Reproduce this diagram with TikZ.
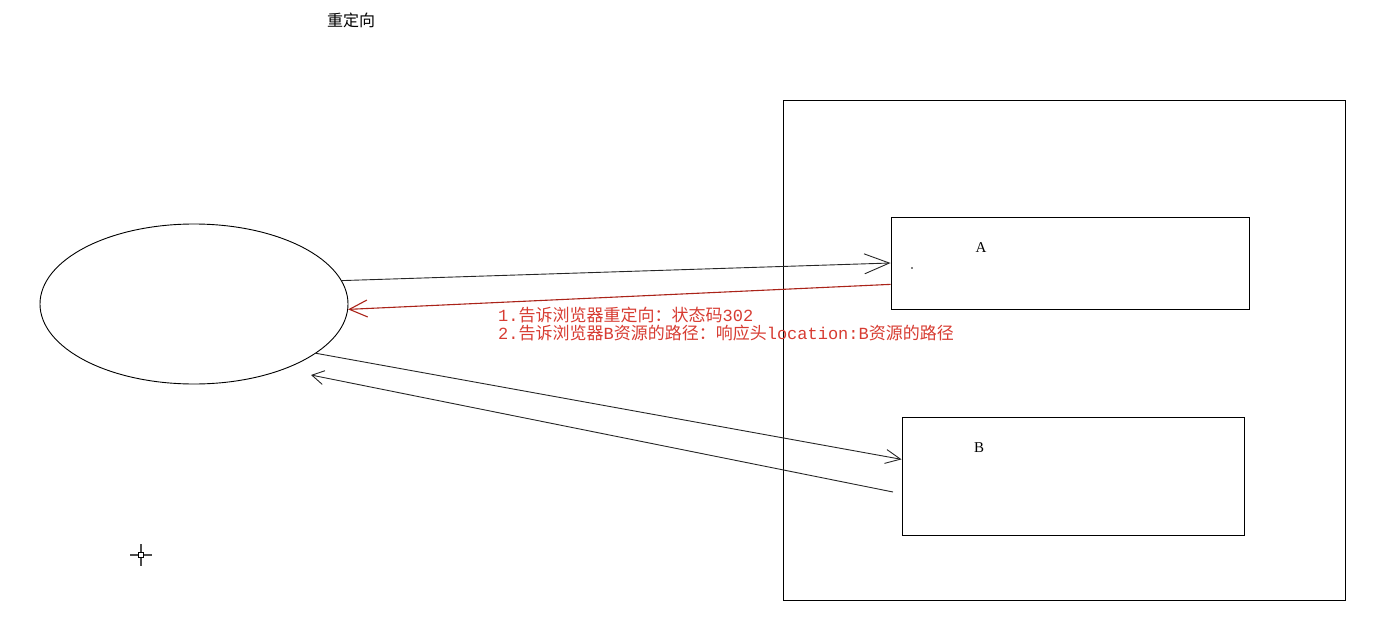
\documentclass[tikz,border=0pt]{standalone}
\usepackage{fontspec}
\setmainfont{Liberation Serif}
\newfontfamily\cjk{Noto Sans CJK SC}
\newfontfamily\monoascii{Liberation Mono}
\usetikzlibrary{shapes.geometric,arrows.meta,calc}
\definecolor{redline}{RGB}{170,35,25}
\definecolor{redtext}{RGB}{215,60,50}
\newcommand{\asc}[1]{{\monoascii #1}}
\tikzset{
  thinline/.style={line width=0.9pt, draw=black!85},
  bigbarb/.style={-{Straight Barb[length=25pt,width=20pt,line width=0.9pt]}},
  smallbarb/.style={-{Straight Barb[length=15pt,width=14pt,line width=0.9pt]}},
  boxstyle/.style={draw, line width=0.9pt, rectangle, inner sep=0pt},
  lbl/.style={font=\fontsize{15}{15}\selectfont, inner sep=0pt},
  redlbl/.style={font=\cjk\fontsize{17}{17}\selectfont, text=redtext, inner sep=0pt, anchor=base west},
}
\begin{document}
\begin{tikzpicture}[x=1pt,y=-1pt]
\useasboundingbox (0,0) rectangle (1388,634);
% title
\node[font=\cjk\fontsize{16}{16}\selectfont, inner sep=0pt] (title) at (351,20) {重定向};
% server
\node[boxstyle, minimum width=562pt, minimum height=500pt] (server) at (1064,350) {};
\node[boxstyle, minimum width=358pt, minimum height=92pt] (A) at (1070,263) {};
\node[boxstyle, minimum width=342pt, minimum height=118pt] (B) at (1073,476) {};
\node[lbl] (Alabel) at (981,248) {A};
\node[lbl] (Blabel) at (979,448) {B};
% browser
\node[draw, ellipse, line width=0.9pt, minimum width=308pt, minimum height=160pt, inner sep=0pt] (browser) at (194,304) {};
% coordinates
\coordinate (redstart) at ($(A.west)!0.46!(A.south west)$);
\coordinate (bin) at ($(B.north west)!0.36!(B.south west)$);
\coordinate (bout) at (893,492);
\coordinate (bback) at (311,375);
% connectors
\draw[thinline, bigbarb] (browser.9.8) -- (A.west);
\draw[line width=1.1pt, draw=redline, -{Straight Barb[length=18pt,width=17pt,line width=1.1pt]}] (redstart) -- (browser.-2.3);
\draw[thinline, smallbarb] (browser.-22) -- (bin);
\draw[thinline, -{Straight Barb[length=12pt,width=14pt,line width=0.9pt]}] (bout) -- (bback);
% red labels
\node[redlbl] (msg1) at (498,321) {\asc{1.}告诉浏览器重定向：状态码\asc{302}};
\node[redlbl] (msg2) at (498,339) {\asc{2.}告诉浏览器\asc{B}资源的路径：响应头\asc{location:B}资源的路径};
% cursor
\coordinate (cur) at (141,555);
\draw[line width=1.2pt, black!70] ($(cur)+(-11,0)$) -- ($(cur)+(11,0)$);
\draw[line width=1.2pt, black!70] ($(cur)+(0,-11)$) -- ($(cur)+(0,11)$);
\draw[line width=0.8pt, fill=white] ($(cur)+(-2.5,-2.5)$) rectangle ($(cur)+(2.5,2.5)$);
\fill (912,268) circle (0.8pt);
\end{tikzpicture}
\end{document}
